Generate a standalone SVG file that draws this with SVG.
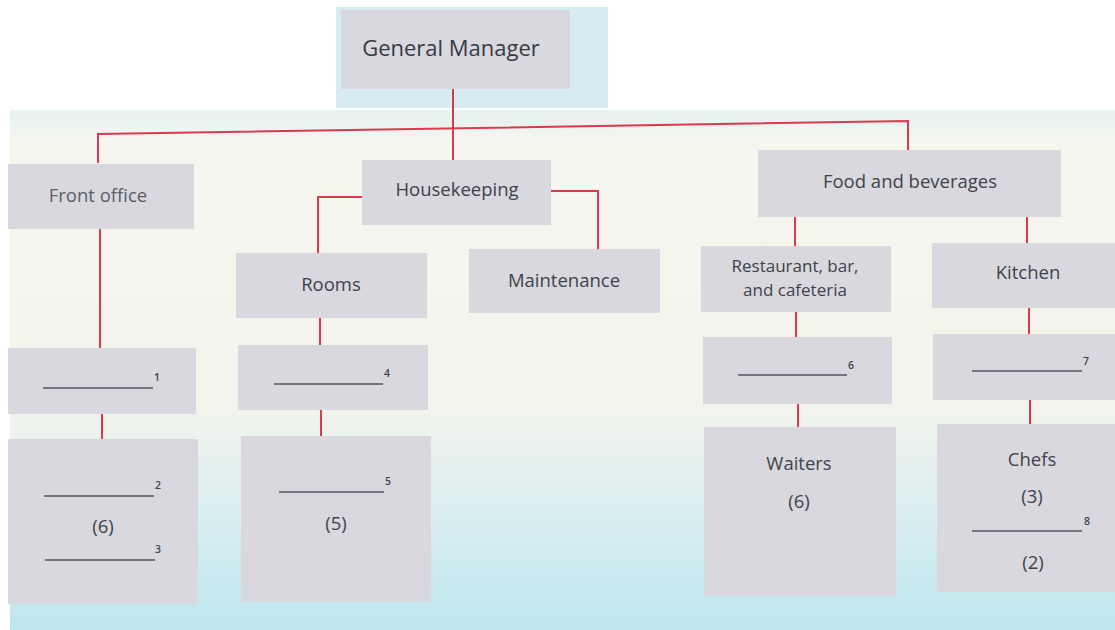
<svg xmlns="http://www.w3.org/2000/svg" width="1115" height="630" viewBox="0 0 1115 630">
<defs>
<linearGradient id="bg" x1="0" y1="0" x2="0" y2="1">
<stop offset="0" stop-color="#e6f2f1"/>
<stop offset="0.07" stop-color="#f7f6ee"/>
<stop offset="0.55" stop-color="#f5f4ec"/>
<stop offset="0.78" stop-color="#d9eef0"/>
<stop offset="1" stop-color="#bde6ef"/>
</linearGradient>
<style>
.box{fill:#d9d8de}
.t{font-family:"Open Sans","Liberation Sans",sans-serif;font-size:18.5px;fill:#3e434b;text-anchor:middle}
.n{font-family:"Open Sans","Liberation Sans",sans-serif;font-size:10.5px;fill:#3e434b;font-weight:600}
.blank{stroke:#50565e;stroke-width:1.3;fill:none}
.c{stroke:#d93a50;stroke-width:2;fill:none}
</style>
</defs>
<rect width="1115" height="630" fill="#ffffff"/>
<rect x="10" y="110" width="1105" height="520" fill="url(#bg)"/>
<rect x="336" y="7" width="272" height="101" fill="#d7ecf0"/>

<g id="connectors">
<path class="c" d="M453 89V160"/>
<path class="c" d="M98 163V134L908 121V150"/>
<path class="c" d="M100 228V348"/>
<path class="c" d="M102 413V440"/>
<path class="c" d="M362 197H318V253"/>
<path class="c" d="M550 191H598V249"/>
<path class="c" d="M320 318V345"/>
<path class="c" d="M321 410V437"/>
<path class="c" d="M795 217V246"/>
<path class="c" d="M1027 216V243"/>
<path class="c" d="M796 312V338"/>
<path class="c" d="M798 404V428"/>
<path class="c" d="M1029 308V335"/>
<path class="c" d="M1030 400V425"/>
</g>

<g id="general-manager">
<rect class="box" x="341" y="10" width="229" height="79"/>
<text class="t" x="451" y="56" style="font-size:22px;fill:#363a42">General Manager</text>
</g>
<g id="front-office">
<rect class="box" x="8" y="164" width="186" height="65"/>
<text class="t" x="98" y="202" style="fill:#5a5f66">Front office</text>
</g>
<g id="housekeeping">
<rect class="box" x="362" y="160" width="189" height="65"/>
<text class="t" x="457" y="196">Housekeeping</text>
</g>
<g id="food-beverages">
<rect class="box" x="758" y="150" width="303" height="67"/>
<text class="t" x="910" y="188">Food and beverages</text>
</g>
<g id="rooms">
<rect class="box" x="236" y="253" width="191" height="65"/>
<text class="t" x="331" y="291">Rooms</text>
</g>
<g id="maintenance">
<rect class="box" x="469" y="249" width="191" height="64"/>
<text class="t" x="564" y="287">Maintenance</text>
</g>
<g id="restaurant">
<rect class="box" x="701" y="246" width="190" height="66"/>
<text class="t" x="795" y="272" style="font-size:17px">Restaurant, bar,</text>
<text class="t" x="795" y="296" style="font-size:17px">and cafeteria</text>
</g>
<g id="kitchen">
<rect class="box" x="932" y="243" width="183" height="65"/>
<text class="t" x="1028" y="279">Kitchen</text>
</g>
<g id="blank-1">
<rect class="box" x="8" y="348" width="188" height="66"/>
<path class="blank" d="M43 388H153"/>
<text class="n" x="154" y="381">1</text>
</g>
<g id="blank-2-3">
<rect class="box" x="8" y="439" width="190" height="165"/>
<path class="blank" d="M44 496H154"/>
<text class="n" x="155" y="489">2</text>
<text class="t" x="103" y="533">(6)</text>
<path class="blank" d="M45 560H155"/>
<text class="n" x="155" y="553">3</text>
</g>
<g id="blank-4">
<rect class="box" x="238" y="345" width="190" height="65"/>
<path class="blank" d="M274 384H383"/>
<text class="n" x="384" y="377">4</text>
</g>
<g id="blank-5">
<rect class="box" x="241" y="436" width="190" height="166"/>
<path class="blank" d="M279 492H384"/>
<text class="n" x="385" y="485">5</text>
<text class="t" x="336" y="530">(5)</text>
</g>
<g id="blank-6">
<rect class="box" x="703" y="337" width="189" height="67"/>
<path class="blank" d="M738 375H847"/>
<text class="n" x="848" y="369">6</text>
</g>
<g id="waiters">
<rect class="box" x="704" y="427" width="192" height="169"/>
<text class="t" x="799" y="470">Waiters</text>
<text class="t" x="799" y="508">(6)</text>
</g>
<g id="blank-7">
<rect class="box" x="933" y="334" width="182" height="66"/>
<path class="blank" d="M972 371H1082"/>
<text class="n" x="1083" y="365">7</text>
</g>
<g id="chefs">
<rect class="box" x="937" y="424" width="178" height="168"/>
<text class="t" x="1032" y="466">Chefs</text>
<text class="t" x="1032" y="503">(3)</text>
<path class="blank" d="M972 531H1082"/>
<text class="n" x="1084" y="525">8</text>
<text class="t" x="1033" y="569">(2)</text>
</g>
</svg>
